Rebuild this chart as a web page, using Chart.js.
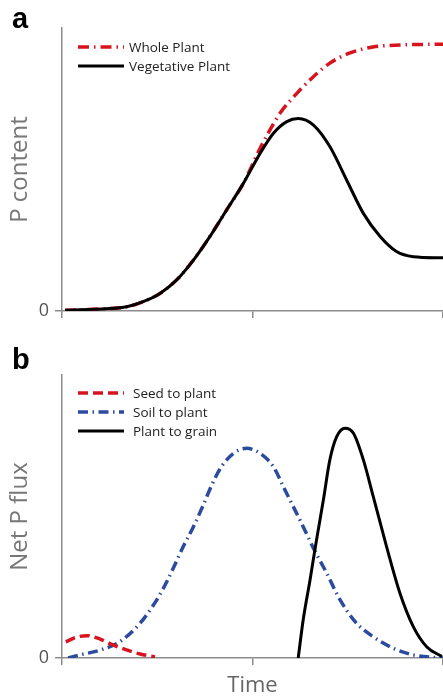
<!DOCTYPE html>
<html><head><meta charset="utf-8">
<script src="https://cdn.jsdelivr.net/npm/chart.js@4/dist/chart.umd.min.js"></script>
<style>
html,body{margin:0;padding:0;background:#fff;}
canvas{display:block;}
</style></head><body>
<canvas id="ca" width="443" height="340"></canvas>
<canvas id="cb" width="443" height="359"></canvas>
<script>
// ---------- data (time 0-100, relative units 0-100) ----------
const timeVeg = [0.8, 8.2, 17, 21.3, 25.7, 30.1, 34.5, 38.8, 43.2, 47.6, 52, 55.5, 59, 62, 66, 70.3, 74.7, 79.1, 83.5, 87.8, 92.2, 100];
const vegetativePlant = [0.3, 0.6, 1.5, 3.3, 6.2, 11, 18, 26.3, 35.7, 45.1, 55.7, 62.8, 66.9, 68, 65.7, 58.1, 46.3, 34.5, 26.3, 21, 19.2, 18.8];
const timeWhole = [0.8, 8.2, 17, 21.3, 25.7, 30.1, 34.5, 38.8, 43.2, 47.6, 52, 54.6, 57.5, 61.7, 65.9, 70.3, 75.6, 81.6, 88.7, 100];
const wholePlant = [0.3, 0.6, 1.5, 3.3, 6.2, 11, 18, 26.3, 35.7, 45.1, 57.5, 64, 70.4, 77, 82.7, 87.6, 91.2, 93.3, 94, 94.3];

const timeSeed = [1, 3.9, 6.6, 10, 13.4, 17.1, 20.5, 24.4];
const seedToPlant = [5.7, 7.4, 7.9, 6.7, 4.6, 2.8, 1.4, 0.4];
const timeSoil = [1.6, 4.7, 10, 15.2, 20.5, 24, 26.6, 29.2, 31.8, 34.5, 37.1, 39.3, 41.8, 45, 48.5, 52, 55.5, 58.1, 60.7, 63.3, 66, 69.5, 73, 77.3, 81.7, 87, 92.2, 97.5, 100];
const soilToPlant = [0, 1.1, 2.8, 5.8, 12.3, 18.7, 24.6, 31.7, 39.3, 46.4, 54.1, 61.1, 67.5, 72.3, 74.1, 72.3, 67.6, 60.5, 53.5, 46.4, 38.8, 29.9, 20.5, 12.3, 7.5, 3.4, 1.1, 0.2, 0];
const timeGrain = [62, 63.3, 65.1, 66.8, 68.6, 70.3, 72.1, 74.3, 76.5, 79.1, 81.7, 85.2, 88.7, 92.2, 95.7, 99.7];
const plantToGrain = [0, 13.4, 27.6, 41.7, 55.8, 70, 78.2, 81.2, 79.4, 70, 57, 39.3, 22.9, 11.1, 4, 0.5];

const xTicks = [0, 50, 100];
const yTicks = [0];
const yTickLabels = ['0'];

// ---------- helpers ----------
function pts(xs, ys){ return xs.map((x, i) => ({x: x, y: ys[i]})); }
const AXIS = '#8c8c8c';
const FONT = "'Open Sans', 'Noto Sans', sans-serif";
const RED = '#d7141e';
const BLUE = '#2a4b9e';

const overlay = {
  id: 'overlay',
  afterDraw(chart, args, o) {
    const ctx = chart.ctx;
    ctx.save();
    ctx.font = 'bold ' + o.letterSize + 'px "Liberation Sans", Arial, sans-serif';
    ctx.fillStyle = '#000';
    ctx.textBaseline = 'alphabetic';
    ctx.textAlign = 'left';
    ctx.fillText(o.letter, o.letterX, o.letterY);
    ctx.font = o.legendSize + 'px ' + FONT;
    ctx.textBaseline = 'middle';
    o.items.forEach((idx, k) => {
      const ds = chart.data.datasets[idx];
      const y = o.legendY + k * o.legendGap;
      ctx.save();
      ctx.strokeStyle = ds.borderColor;
      ctx.lineWidth = ds.borderWidth;
      ctx.setLineDash(ds.borderDash || []);
      ctx.beginPath();
      ctx.moveTo(o.lineX0, y);
      ctx.lineTo(o.lineX1, y);
      ctx.stroke();
      ctx.restore();
      ctx.fillStyle = '#222';
      ctx.fillText(ds.label, o.textX, y + 1);
    });
    ctx.restore();
  }
};

function makeScales(yTitle, showTime, xHeight) {
  return {
    x: {
      type: 'linear', min: 0, max: 100,
      afterBuildTicks: s => { s.ticks = xTicks.map(v => ({value: v})); },
      ticks: { display: false },
      grid: { drawOnChartArea: false, drawTicks: true, tickLength: 7, color: AXIS, lineWidth: 1.5 },
      border: { display: true, color: AXIS, width: 1.5 },
      title: { display: showTime, text: 'Time', color: '#666', font: {family: FONT, size: 22}, padding: {top: 0, bottom: 0} },
      afterFit: s => { s.height = xHeight; }
    },
    y: {
      type: 'linear', min: 0, max: 100,
      afterBuildTicks: s => { s.ticks = yTicks.map(v => ({value: v})); },
      ticks: { callback: (v, i) => yTickLabels[i], color: '#555', font: {family: FONT, size: 18}, padding: 6 },
      grid: { drawOnChartArea: false, drawTicks: true, tickLength: 7, color: AXIS, lineWidth: 1.5 },
      border: { display: true, color: AXIS, width: 1.5 },
      title: { display: true, text: yTitle, color: '#777', font: {family: FONT, size: 24}, padding: {top: 5.5, bottom: 0} },
      afterFit: s => { s.width = 62; }
    }
  };
}

const lineBase = { pointRadius: 0, pointHoverRadius: 0, fill: false, tension: 0.4, cubicInterpolationMode: 'monotone', borderCapStyle: 'butt' };

new Chart(document.getElementById('ca'), {
  type: 'line',
  data: {
    datasets: [
      Object.assign({ label: 'Vegetative Plant', data: pts(timeVeg, vegetativePlant), borderColor: '#000', borderWidth: 3, order: 0 }, lineBase),
      Object.assign({ label: 'Whole Plant', data: pts(timeWhole, wholePlant), borderColor: RED, borderWidth: 3.5, borderDash: [11, 5, 1.5, 5], order: 1 }, lineBase)
    ]
  },
  options: {
    responsive: false, animation: false, devicePixelRatio: 1,
    layout: { padding: { top: 28, left: 0, right: 0, bottom: 0 } },
    scales: makeScales('P content', false, 29),
    plugins: {
      legend: { display: false }, tooltip: { enabled: false },
      overlay: { letter: 'a', letterSize: 29, letterX: 12, letterY: 28, legendSize: 13.5, legendY: 47, legendGap: 19, lineX0: 78, lineX1: 124, textX: 129, items: [1, 0] }
    }
  },
  plugins: [overlay]
});

new Chart(document.getElementById('cb'), {
  type: 'line',
  data: {
    datasets: [
      Object.assign({ label: 'Plant to grain', data: pts(timeGrain, plantToGrain), borderColor: '#000', borderWidth: 3, order: 0 }, lineBase),
      Object.assign({ label: 'Seed to plant', data: pts(timeSeed, seedToPlant), borderColor: RED, borderWidth: 3.5, borderDash: [10, 5], order: 1 }, lineBase),
      Object.assign({ label: 'Soil to plant', data: pts(timeSoil, soilToPlant), borderColor: BLUE, borderWidth: 3.5, borderDash: [10, 4.5, 1.5, 4.5], order: 2 }, lineBase)
    ]
  },
  options: {
    responsive: false, animation: false, devicePixelRatio: 1,
    layout: { padding: { top: 35, left: 0, right: 0, bottom: 0 } },
    scales: makeScales('Net P flux', true, 41),
    plugins: {
      legend: { display: false }, tooltip: { enabled: false },
      overlay: { letter: 'b', letterSize: 29, letterX: 12, letterY: 29, legendSize: 13.5, legendY: 53, legendGap: 19, lineX0: 78, lineX1: 124, textX: 133, items: [1, 2, 0] }
    }
  },
  plugins: [overlay]
});
</script>
</body></html>
